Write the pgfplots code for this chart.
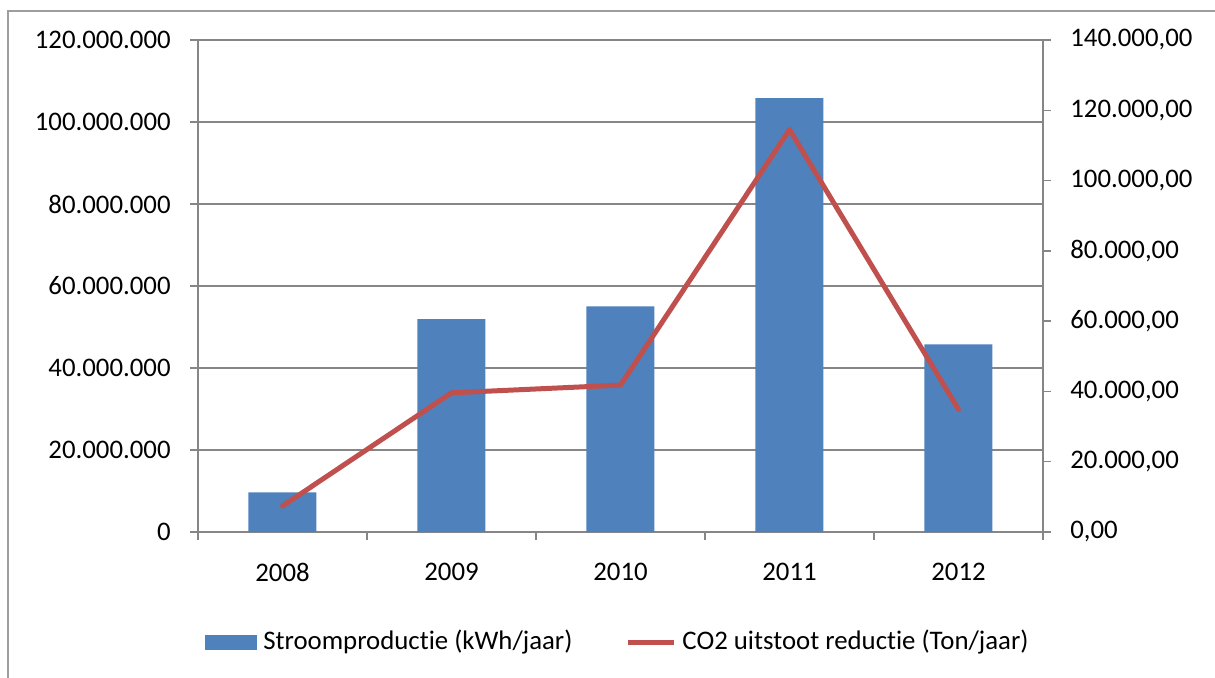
\documentclass[border=0pt]{standalone}
\usepackage{pgfplots}
\pgfplotsset{compat=1.18}
\usepackage{fontspec}
\setmainfont[Ligatures={NoCommon}, RawFeature={-liga;-clig;-dlig}]{Carlito}
\definecolor{barblue}{HTML}{4F81BD}
\definecolor{linered}{HTML}{C0504D}
\definecolor{axgray}{HTML}{868686}
\begin{document}
\fontsize{13.4pt}{15pt}\selectfont
\begin{tikzpicture}
\useasboundingbox (-99pt,-72.5pt) rectangle (508.5pt,266pt);
\draw[axgray!80, line width=1pt] (-95pt,-80pt) -- (-95pt,260.5pt) -- (520pt,260.5pt);
\begin{axis}[
  at={(0,0)}, anchor=south west,
  scale only axis, width=422.5pt, height=246pt,
  xmin=-0.5, xmax=4.5, ymin=0, ymax=120000000,
  ytick={0,20000000,40000000,60000000,80000000,100000000,120000000},
  scaled y ticks=false,
  yticklabel style={/pgf/number format/fixed, /pgf/number format/precision=0, /pgf/number format/1000 sep={.}, /pgf/number format/assume math mode=true, xshift=-5pt},
  xtick={-0.5,0.5,1.5,2.5,3.5,4.5}, xticklabels={},
  extra x ticks={0,1,2,3,4},
  extra x tick labels={2008,2009,2010,2011,2012},
  extra x tick style={major tick length=0pt, xticklabel style={yshift=-11pt}},
  axis x line*=bottom, axis y line*=left,
  axis line style={axgray, line width=0.7pt, -},
  tick style={axgray, line width=0.7pt},
  major tick length=4pt, tick align=outside,
  ymajorgrids, grid style={axgray, line width=0.7pt},
  legend columns=2,
  legend style={at={(0.4976,0)}, anchor=center, yshift=-55pt, draw=none, fill=none,
    font=\fontsize{13.4pt}{15pt}\selectfont,
    /tikz/every even column/.append style={column sep=25pt},
    /tikz/every odd column/.append style={column sep=1.5pt},
    nodes={inner sep=1.5pt}},
]
\addplot[ybar, bar width=34pt, fill=barblue, draw=none,
  legend image code/.code={\fill[barblue] (0pt,-3.75pt) rectangle (26pt,3.75pt);}]
  coordinates {(0,9680000) (1,51950000) (2,55050000) (3,105800000) (4,45780000)};
\addlegendentry{Stroomproduc\kern0pt tie (kWh/jaar)}
\addlegendimage{linered, line width=2.5pt, legend image code/.code={\draw[linered, line width=2.5pt] (0pt,0pt) -- (23pt,0pt);}}
\addlegendentry{CO2 uitstoot reduc\kern0pt tie (Ton/jaar)}
\end{axis}
\begin{axis}[
  at={(0,0)}, anchor=south west,
  scale only axis, width=422.5pt, height=246pt,
  xmin=-0.5, xmax=4.5, ymin=0, ymax=140000,
  ytick={0,20000,40000,60000,80000,100000,120000,140000},
  scaled y ticks=false,
  yticklabel style={/pgf/number format/fixed, /pgf/number format/fixed zerofill, /pgf/number format/precision=2, /pgf/number format/use comma, /pgf/number format/1000 sep={.}, /pgf/number format/assume math mode=true, xshift=5pt},
  hide x axis,
  axis y line*=right,
  axis line style={axgray, line width=0.7pt, -},
  tick style={axgray, line width=0.7pt},
  major tick length=4pt, tick align=outside,
]
\addplot[linered, line width=2.5pt, line join=round, line cap=round]
  coordinates {(0,7400) (1,39600) (2,41800) (3,114500) (4,34900)};
\end{axis}
\end{tikzpicture}
\end{document}
